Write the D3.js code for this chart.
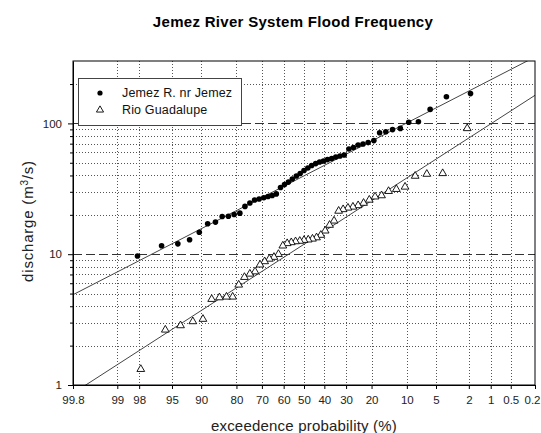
<!DOCTYPE html>
<html><head><meta charset="utf-8">
<script src="https://cdn.jsdelivr.net/npm/d3@7"></script>
<style>
body{margin:0;background:#fff}
svg{display:block}
text{font-family:"Liberation Sans",Arial,Helvetica,sans-serif}
</style>
</head><body>
<svg id="c" width="541" height="433"></svg>
<script>
// ---------- data ----------
const titleText = "Jemez River System Flood Frequency";
const xTickValues = [99.8, 99, 98, 95, 90, 80, 70, 60, 50, 40, 30, 20, 10, 5, 2, 1, 0.5, 0.2];
const xTickLabels = ["99.8","99","98","95","90","80","70","60","50","40","30","20","10","5","2","1","0.5","0.2"];
const yMajorTicks = [1, 10, 100];
const yMinorTicks = [2,3,4,5,6,7,8,9,20,30,40,50,60,70,80,90,200];
const yDashedLines = [10, 100];

const seriesNames = ["Jemez R. nr Jemez", "Rio Guadalupe"];

const jemezProb = [1.9,3.8,5.8,7.7,9.6,11.5,13.5,15.4,17.3,19.2,21.2,23.1,25.0,26.9,28.8,30.8,32.7,34.6,36.5,38.5,
  40.4,42.3,44.2,46.2,48.1,50.0,51.9,53.8,55.8,57.7,59.6,61.5,63.5,65.4,67.3,69.2,71.2,73.1,75.0,76.9,
  78.8,80.8,82.7,84.6,86.5,88.5,90.4,92.3,94.2,96.2,98.1];
const jemezQ = [169,160,128,103,102,91.6,89.7,86.3,84.8,73.9,71.3,69.5,68.3,65.4,63.7,57.3,56.3,55.3,53.9,52.9,
  51.6,50.7,49.3,47.6,45.6,43.6,41.4,39.6,37.6,35.6,34.1,32.4,28.9,28.1,27.6,27.0,26.4,26.0,24.6,23.2,
  20.6,20.1,19.5,19.4,17.6,17.1,14.7,12.9,12.0,11.6,9.7];

const rioProb = [2.1,4.2,6.3,8.3,10.4,12.5,14.6,16.7,18.8,20.8,22.9,25.0,27.1,29.2,31.3,33.3,35.4,37.5,39.6,41.7,
  43.8,45.8,47.9,50.0,52.1,54.2,56.3,58.3,60.4,62.5,64.6,66.7,68.8,70.8,72.9,75.0,77.1,79.2,81.3,83.3,
  85.4,87.5,89.6,91.7,93.8,95.8,97.9];
const rioQ = [91.6,41.5,41.0,39.6,32.7,31.4,30.3,28.1,27.5,26.0,24.6,23.6,23.0,22.6,22.0,21.4,18.0,16.7,15.1,14.0,
  13.4,13.1,12.9,12.8,12.6,12.5,12.3,12.1,11.6,10.0,9.5,9.2,8.8,8.3,7.36,7.07,6.67,5.83,4.72,4.72,
  4.66,4.53,3.19,3.06,2.85,2.64,1.32];

// fitted lines (end points)
const jemezFitProb = [99.8, 0.2];
const jemezFitQ = [4.9, 322];
const rioFitProb = [99.8, 0.2];
const rioFitQ = [0.865, 164];

// ---------- helpers ----------
function probit(p){ // inverse standard normal CDF (Acklam)
  const a=[-3.969683028665376e+01,2.209460984245205e+02,-2.759285104469687e+02,1.383577518672690e+02,-3.066479806614716e+01,2.506628277459239e+00];
  const b=[-5.447609879822406e+01,1.615858368580409e+02,-1.556989798598866e+02,6.680131188771972e+01,-1.328068155288572e+01];
  const c=[-7.784894002430293e-03,-3.223964580411365e-01,-2.400758277161838e+00,-2.549732539343734e+00,4.374664141464968e+00,2.938163982698783e+00];
  const d=[7.784695709041462e-03,3.224671290700398e-01,2.445134137142996e+00,3.754408661907416e+00];
  const pl=0.02425, ph=1-pl; let q,r;
  if(p<pl){q=Math.sqrt(-2*Math.log(p));return (((((c[0]*q+c[1])*q+c[2])*q+c[3])*q+c[4])*q+c[5])/((((d[0]*q+d[1])*q+d[2])*q+d[3])*q+1);}
  if(p<=ph){q=p-0.5;r=q*q;return (((((a[0]*r+a[1])*r+a[2])*r+a[3])*r+a[4])*r+a[5])*q/(((((b[0]*r+b[1])*r+b[2])*r+b[3])*r+b[4])*r+1);}
  q=Math.sqrt(-2*Math.log(1-p));return -(((((c[0]*q+c[1])*q+c[2])*q+c[3])*q+c[4])*q+c[5])/((((d[0]*q+d[1])*q+d[2])*q+d[3])*q+1);
}
const zOf = p => probit(1 - p/100);   // exceedance % -> z

// ---------- layout ----------
const L=73, R=535, T=61, B=385;
const svg = d3.select("#c");
const x = d3.scaleLinear().domain([zOf(99.8), zOf(0.2)]).range([L, R]);
const y = d3.scaleLog().domain([1, 300]).range([B, T]);
const px = p => x(zOf(p));

svg.append("text").attr("x", 293).attr("y", 27).attr("text-anchor","middle")
  .attr("font-size", 15).attr("font-weight","bold").attr("letter-spacing",0.3)
  .attr("fill","#000").text(titleText);

svg.append("defs").append("clipPath").attr("id","clip")
  .append("rect").attr("x",L).attr("y",T).attr("width",R-L).attr("height",B-T);

const g = svg.append("g");

// grid
g.selectAll(".vg").data(xTickValues.slice(1,-1)).join("line")
  .attr("x1", d=>Math.round(px(d))+0.5).attr("x2", d=>Math.round(px(d))+0.5).attr("y1", T).attr("y2", B)
  .attr("stroke","#555").attr("stroke-width",1).attr("stroke-dasharray","1,2");
g.selectAll(".hg").data(yMinorTicks).join("line")
  .attr("x1", L).attr("x2", R).attr("y1", d=>Math.round(y(d))+0.5).attr("y2", d=>Math.round(y(d))+0.5)
  .attr("stroke","#555").attr("stroke-width",1).attr("stroke-dasharray","1,2");
g.selectAll(".hd").data(yDashedLines).join("line")
  .attr("x1", L).attr("x2", R).attr("y1", d=>Math.round(y(d))+0.5).attr("y2", d=>Math.round(y(d))+0.5)
  .attr("stroke","#333").attr("stroke-width",1).attr("stroke-dasharray","9,4");

// fit lines
const line = d3.line().x(d=>px(d[0])).y(d=>y(d[1]));
const fits = [d3.zip(jemezFitProb, jemezFitQ), d3.zip(rioFitProb, rioFitQ)];
g.append("g").attr("clip-path","url(#clip)").selectAll("path").data(fits).join("path")
  .attr("d", line).attr("fill","none").attr("stroke","#444").attr("stroke-width",1);

// points
g.append("g").selectAll("circle").data(d3.zip(jemezProb, jemezQ)).join("circle")
  .attr("cx", d=>px(d[0])).attr("cy", d=>y(d[1])).attr("r", 2.8).attr("fill","#000");
const tri = d3.symbol(d3.symbolTriangle, 26);
g.append("g").selectAll("path").data(d3.zip(rioProb, rioQ)).join("path")
  .attr("transform", d=>`translate(${px(d[0])},${y(d[1])})`).attr("d", tri)
  .attr("fill","#fff").attr("stroke","#000").attr("stroke-width",0.9);

// legend
const lg = svg.append("g");
lg.append("rect").attr("x",78.5).attr("y",78.5).attr("width",163).attr("height",47)
  .attr("fill","#fff").attr("stroke","#444");
lg.append("circle").attr("cx",100).attr("cy",93).attr("r",2.6).attr("fill","#000");
lg.append("path").attr("transform","translate(100,110)").attr("d", d3.symbol(d3.symbolTriangle, 22))
  .attr("fill","#fff").attr("stroke","#000").attr("stroke-width",0.9);
lg.selectAll("text").data(seriesNames).join("text")
  .attr("x",122).attr("y",(d,i)=>97+i*16.5).attr("font-size",12.5).attr("letter-spacing",0.15)
  .attr("fill","#111").text(d=>d);

// axes
const xAxis = d3.axisBottom(x).tickValues(xTickValues.map(zOf))
  .tickFormat((d,i)=>xTickLabels[i]).tickSize(4).tickSizeOuter(0).tickPadding(7);
const xa = svg.append("g").attr("transform",`translate(0,${B})`).call(xAxis);
xa.selectAll("text").attr("font-size",11.5).attr("fill","#222").style("font-family",'"Liberation Sans",Arial,sans-serif');
xa.selectAll("text").filter((d,i)=>i===xTickLabels.length-1).attr("text-anchor","end").attr("dx",5);

const yAxis = d3.axisLeft(y).tickValues(yMajorTicks).tickFormat(d3.format("d"))
  .tickSize(5).tickSizeOuter(0).tickPadding(6);
const ya = svg.append("g").attr("transform",`translate(${L},0)`).call(yAxis);
ya.selectAll("text").attr("font-size",11.5).attr("fill","#222").style("font-family",'"Liberation Sans",Arial,sans-serif');
const yMinorAxis = d3.axisLeft(y).tickValues(yMinorTicks).tickFormat("").tickSize(3).tickSizeOuter(0);
svg.append("g").attr("transform",`translate(${L},0)`).call(yMinorAxis).select(".domain").remove();

// frame
svg.append("rect").attr("x",L).attr("y",T).attr("width",R-L).attr("height",B-T)
  .attr("fill","none").attr("stroke","#000").attr("stroke-width",1);

// axis titles
svg.append("text").attr("x",304).attr("y",431).attr("text-anchor","middle")
  .attr("font-size",15).attr("letter-spacing",0.2).attr("fill","#222").text("exceedence probability (%)");
const yl = svg.append("text").attr("transform","translate(33,221) rotate(-90)").attr("text-anchor","middle")
  .attr("font-size",15).attr("letter-spacing",0.8).attr("fill","#222");
yl.append("tspan").text("discharge (m");
yl.append("tspan").attr("font-size",10).attr("dy",-5).text("3");
yl.append("tspan").attr("dy",5).text("/s)");
</script>
</body></html>
